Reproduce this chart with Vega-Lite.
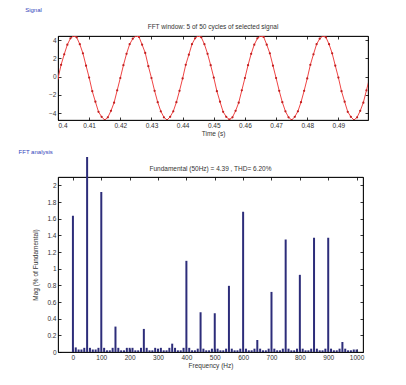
{
"$schema": "https://vega.github.io/schema/vega-lite/v6.json",
"background": "white",
"padding": {"left": 18, "top": 6, "right": 5, "bottom": 5},
"spacing": 10,
"datasets": {
"sig": [
{"t":0.400,"v":-0.20},{"t":0.401,"v":1.30},{"t":0.402,"v":2.45},{"t":0.403,"v":3.50},{"t":0.404,"v":4.20},{"t":0.405,"v":4.45},{"t":0.406,"v":4.30},{"t":0.407,"v":3.55},{"t":0.408,"v":2.55},{"t":0.409,"v":1.20},
{"t":0.410,"v":-0.10},{"t":0.411,"v":-1.60},{"t":0.412,"v":-2.75},{"t":0.413,"v":-3.85},{"t":0.414,"v":-4.40},{"t":0.415,"v":-4.75},{"t":0.416,"v":-4.45},{"t":0.417,"v":-3.75},{"t":0.418,"v":-2.85},{"t":0.419,"v":-1.50},
{"t":0.420,"v":-0.15},{"t":0.421,"v":1.25},{"t":0.422,"v":2.50},{"t":0.423,"v":3.55},{"t":0.424,"v":4.15},{"t":0.425,"v":4.45},{"t":0.426,"v":4.35},{"t":0.427,"v":3.50},{"t":0.428,"v":2.60},{"t":0.429,"v":1.15},
{"t":0.430,"v":-0.15},{"t":0.431,"v":-1.55},{"t":0.432,"v":-2.80},{"t":0.433,"v":-3.80},{"t":0.434,"v":-4.45},{"t":0.435,"v":-4.75},{"t":0.436,"v":-4.40},{"t":0.437,"v":-3.80},{"t":0.438,"v":-2.80},{"t":0.439,"v":-1.55},
{"t":0.440,"v":-0.20},{"t":0.441,"v":1.30},{"t":0.442,"v":2.40},{"t":0.443,"v":3.55},{"t":0.444,"v":4.20},{"t":0.445,"v":4.45},{"t":0.446,"v":4.30},{"t":0.447,"v":3.55},{"t":0.448,"v":2.50},{"t":0.449,"v":1.25},
{"t":0.450,"v":-0.10},{"t":0.451,"v":-1.60},{"t":0.452,"v":-2.75},{"t":0.453,"v":-3.85},{"t":0.454,"v":-4.40},{"t":0.455,"v":-4.70},{"t":0.456,"v":-4.45},{"t":0.457,"v":-3.75},{"t":0.458,"v":-2.85},{"t":0.459,"v":-1.50},
{"t":0.460,"v":-0.15},{"t":0.461,"v":1.25},{"t":0.462,"v":2.50},{"t":0.463,"v":3.50},{"t":0.464,"v":4.20},{"t":0.465,"v":4.45},{"t":0.466,"v":4.35},{"t":0.467,"v":3.50},{"t":0.468,"v":2.55},{"t":0.469,"v":1.20},
{"t":0.470,"v":-0.15},{"t":0.471,"v":-1.55},{"t":0.472,"v":-2.80},{"t":0.473,"v":-3.80},{"t":0.474,"v":-4.45},{"t":0.475,"v":-4.75},{"t":0.476,"v":-4.40},{"t":0.477,"v":-3.80},{"t":0.478,"v":-2.80},{"t":0.479,"v":-1.55},
{"t":0.480,"v":-0.20},{"t":0.481,"v":1.30},{"t":0.482,"v":2.45},{"t":0.483,"v":3.55},{"t":0.484,"v":4.15},{"t":0.485,"v":4.45},{"t":0.486,"v":4.30},{"t":0.487,"v":3.55},{"t":0.488,"v":2.55},{"t":0.489,"v":1.20},
{"t":0.490,"v":-0.10},{"t":0.491,"v":-1.60},{"t":0.492,"v":-2.75},{"t":0.493,"v":-3.85},{"t":0.494,"v":-4.40},{"t":0.495,"v":-4.75},{"t":0.496,"v":-4.45},{"t":0.497,"v":-3.75},{"t":0.498,"v":-2.85},{"t":0.499,"v":-1.50},
{"t":0.500,"v":-0.15}
],
"fft": [
{"f":0,"m":1.635},{"f":10,"m":0.055},{"f":20,"m":0.03},{"f":30,"m":0.03},{"f":40,"m":0.05},{"f":50,"m":2.34},{"f":60,"m":0.05},{"f":70,"m":0.03},{"f":80,"m":0.03},{"f":90,"m":0.05},
{"f":100,"m":1.92},{"f":110,"m":0.05},{"f":120,"m":0.02},{"f":130,"m":0.02},{"f":140,"m":0.05},{"f":150,"m":0.305},{"f":160,"m":0.05},{"f":170,"m":0.02},{"f":180,"m":0.02},{"f":190,"m":0.05},
{"f":200,"m":0.05},{"f":210,"m":0.05},{"f":220,"m":0.02},{"f":230,"m":0.02},{"f":240,"m":0.05},{"f":250,"m":0.277},{"f":260,"m":0.05},{"f":270,"m":0.02},{"f":280,"m":0.02},{"f":290,"m":0.05},
{"f":300,"m":0.04},{"f":310,"m":0.05},{"f":320,"m":0.02},{"f":330,"m":0.02},{"f":340,"m":0.05},{"f":350,"m":0.10},{"f":360,"m":0.05},{"f":370,"m":0.02},{"f":380,"m":0.02},{"f":390,"m":0.05},
{"f":400,"m":1.094},{"f":410,"m":0.05},{"f":420,"m":0.02},{"f":430,"m":0.02},{"f":440,"m":0.04},{"f":450,"m":0.477},{"f":460,"m":0.04},{"f":470,"m":0.02},{"f":480,"m":0.02},{"f":490,"m":0.04},
{"f":500,"m":0.465},{"f":510,"m":0.04},{"f":520,"m":0.02},{"f":530,"m":0.02},{"f":540,"m":0.04},{"f":550,"m":0.794},{"f":560,"m":0.04},{"f":570,"m":0.02},{"f":580,"m":0.02},{"f":590,"m":0.04},
{"f":600,"m":1.683},{"f":610,"m":0.04},{"f":620,"m":0.02},{"f":630,"m":0.02},{"f":640,"m":0.04},{"f":650,"m":0.144},{"f":660,"m":0.04},{"f":670,"m":0.02},{"f":680,"m":0.02},{"f":690,"m":0.04},
{"f":700,"m":0.721},{"f":710,"m":0.04},{"f":720,"m":0.02},{"f":730,"m":0.02},{"f":740,"m":0.04},{"f":750,"m":1.35},{"f":760,"m":0.04},{"f":770,"m":0.02},{"f":780,"m":0.02},{"f":790,"m":0.04},
{"f":800,"m":0.926},{"f":810,"m":0.04},{"f":820,"m":0.02},{"f":830,"m":0.02},{"f":840,"m":0.04},{"f":850,"m":1.371},{"f":860,"m":0.04},{"f":870,"m":0.02},{"f":880,"m":0.02},{"f":890,"m":0.04},
{"f":900,"m":1.371},{"f":910,"m":0.04},{"f":920,"m":0.02},{"f":930,"m":0.02},{"f":940,"m":0.04},{"f":950,"m":0.12},{"f":960,"m":0.04},{"f":970,"m":0.02},{"f":980,"m":0.02},{"f":990,"m":0.03},
{"f":1000,"m":0.03}
]
},
"vconcat": [
{
"title": {"text": "Signal", "anchor": "start", "frame": "bounds", "fontSize": 6, "color": "#3344bb", "dx": -23, "offset": 11},
"vconcat": [{
"width": 310, "height": 84,
"title": {"text": "FFT window: 5 of 50 cycles of selected signal", "offset": 5},
"data": {"name": "sig"},
"layer": [
{"mark": {"type": "line", "color": "#f04545", "strokeWidth": 1, "clip": true, "point": {"filled": true, "size": 5, "color": "#c02020"}},
 "encoding": {
  "x": {"field": "t", "type": "quantitative", "scale": {"domain": [0.4, 0.4995], "nice": false, "zero": false},
        "axis": {"values": [0.4,0.41,0.42,0.43,0.44,0.45,0.46,0.47,0.48,0.49], "format": "~g", "title": "Time (s)", "titlePadding": 2}},
  "y": {"field": "v", "type": "quantitative", "scale": {"domain": [-4.75, 4.45], "nice": false, "zero": false},
        "axis": {"values": [-4,-2,0,2,4], "title": null}}
 }},
{"mark": {"type": "line", "strokeOpacity": 0, "clip": true},
 "encoding": {
  "x": {"field": "t", "type": "quantitative", "axis": {"orient": "top", "values": [0.4,0.41,0.42,0.43,0.44,0.45,0.46,0.47,0.48,0.49], "labels": false, "title": null}},
  "y": {"field": "v", "type": "quantitative", "axis": {"orient": "right", "values": [-4,-2,0,2,4], "labels": false, "title": null}}
 }}
],
"resolve": {"axis": {"x": "independent", "y": "independent"}}
}]
},
{
"title": {"text": "FFT analysis", "anchor": "start", "frame": "bounds", "fontSize": 6, "color": "#3344bb", "dx": -14, "offset": 2},
"vconcat": [{
"width": 305, "height": 175,
"title": {"text": "Fundamental (50Hz) = 4.39 , THD= 6.20%", "offset": -15},
"data": {"name": "fft"},
"layer": [
{"mark": {"type": "bar", "color": "#2d2d7a", "size": 2},
 "encoding": {
  "x": {"field": "f", "type": "quantitative", "scale": {"domain": [-35, 1005], "nice": false, "zero": false},
        "axis": {"values": [0,100,200,300,400,500,600,700,800,900,1000], "format": "d", "title": "Frequency (Hz)", "titlePadding": 2}},
  "y": {"field": "m", "type": "quantitative", "scale": {"domain": [0, 2.1], "nice": false},
        "axis": {"values": [0,0.2,0.4,0.6,0.8,1,1.2,1.4,1.6,1.8,2], "format": "~g", "title": "Mag (% of Fundamental)", "titlePadding": 8}}
 }},
{"mark": {"type": "bar", "opacity": 0, "size": 2},
 "encoding": {
  "x": {"field": "f", "type": "quantitative", "axis": {"orient": "top", "values": [0,100,200,300,400,500,600,700,800,900,1000], "labels": false, "title": null}},
  "y": {"field": "m", "type": "quantitative", "axis": {"orient": "right", "values": [0,0.2,0.4,0.6,0.8,1,1.2,1.4,1.6,1.8,2], "labels": false, "title": null}}
 }}
],
"resolve": {"axis": {"x": "independent", "y": "independent"}}
}]
}
],
"config": {
 "font": "Liberation Sans Narrow, Liberation Sans, sans-serif",
 "view": {"stroke": "black", "strokeWidth": 0.8},
 "axis": {"labelFontSize": 6.5, "titleFontSize": 6.5, "titleFontWeight": "normal", "tickSize": -3, "labelPadding": 5,
          "domainColor": "black", "tickColor": "black", "labelColor": "#333333", "titleColor": "#333333", "grid": false, "domainWidth": 0.8, "tickWidth": 0.8},
 "title": {"fontSize": 6.5, "fontWeight": "normal", "color": "#333333"}
}
}
